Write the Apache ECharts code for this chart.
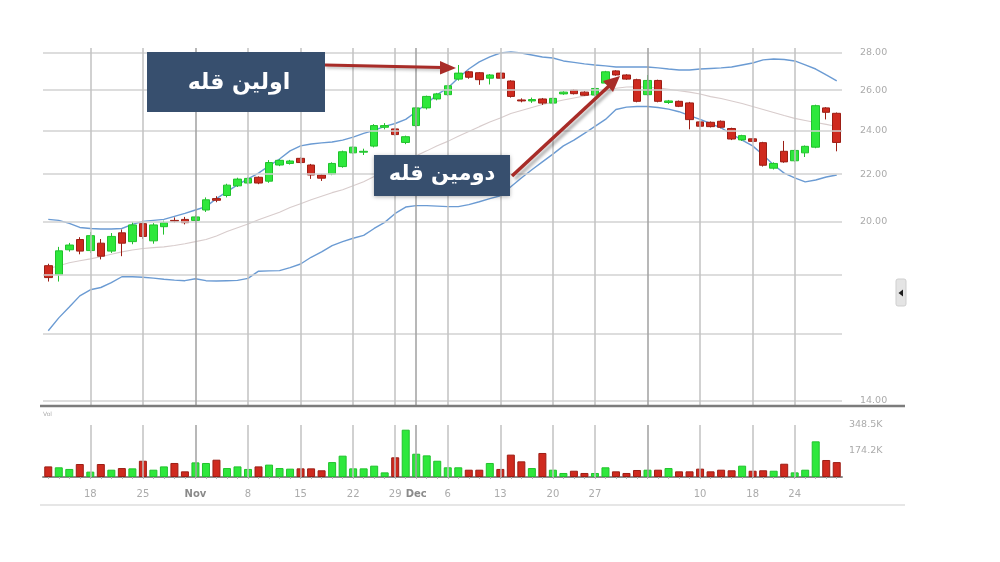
<!DOCTYPE html>
<html><head><meta charset="utf-8">
<script src="https://cdn.jsdelivr.net/npm/echarts@6/dist/echarts.min.js"></script>
<style>html,body{margin:0;padding:0;background:#fff}#c{width:1000px;height:562px}</style>
</head><body><div id="c"></div>
<script>
// ---------- data ----------
const dates = ['Oct 12','Oct 13','Oct 14','Oct 15','Oct 18','Oct 19','Oct 20','Oct 21','Oct 22','Oct 25','Oct 26','Oct 27','Oct 28','Oct 29',
 'Nov 1','Nov 2','Nov 3','Nov 4','Nov 5','Nov 8','Nov 9','Nov 10','Nov 11','Nov 12','Nov 15','Nov 16','Nov 17','Nov 18','Nov 19','Nov 22','Nov 23','Nov 24','Nov 26','Nov 29','Nov 30',
 'Dec 1','Dec 2','Dec 3','Dec 6','Dec 7','Dec 8','Dec 9','Dec 10','Dec 13','Dec 14','Dec 15','Dec 16','Dec 17','Dec 20','Dec 21','Dec 22','Dec 23','Dec 27','Dec 28','Dec 29','Dec 30','Dec 31',
 'Jan 3','Jan 4','Jan 5','Jan 6','Jan 7','Jan 10','Jan 11','Jan 12','Jan 13','Jan 14','Jan 18','Jan 19','Jan 20','Jan 21','Jan 24','Jan 25','Jan 26','Jan 27','Jan 28'];

const open = [18.33,18.00,18.92,19.31,18.89,19.17,18.87,19.57,19.23,19.93, 19.26,19.81,20.06,20.10,20.06,20.48,20.95,21.08,21.49,21.61,
 21.86,21.69,22.40,22.47,22.70,22.40,21.96,22.00,22.33,22.95, 22.98,23.26,24.15,24.07,23.43,24.23,25.10,25.55,25.77,26.58,
 26.97,26.92,26.63,26.90,26.48,25.50,25.45,25.55,25.34,25.81, 26.00,25.90,25.75,26.37,27.02,26.80,26.55,25.77,26.51,25.37,
 25.43,25.35,24.41,24.39,24.44,24.09,23.55,23.60,23.42,22.26, 23.02,22.59,22.95,23.21,25.10,24.83];
const close = [17.90,18.88,19.10,18.87,19.46,18.68,19.43,19.17,19.88,19.43, 19.88,19.97,20.03,19.97,20.20,20.90,20.88,21.52,21.78,21.81,
 21.61,22.51,22.61,22.58,22.51,21.96,21.82,22.47,23.00,23.21, 23.02,24.23,24.23,23.80,23.70,25.10,25.68,25.81,26.23,26.90,
 26.68,26.55,26.80,26.63,25.68,25.45,25.52,25.34,25.58,25.90, 25.82,25.74,26.09,26.97,26.80,26.58,25.43,26.51,25.43,25.45,
 25.18,24.52,24.20,24.18,24.15,23.59,23.75,23.48,22.39,22.47, 22.54,23.06,23.25,25.21,24.88,23.43];
const low = [17.76,17.76,18.85,18.75,18.80,18.56,18.80,18.68,19.13,19.33, 19.15,19.50,19.98,19.90,20.00,20.40,20.80,21.00,21.44,21.55,
 21.56,21.62,22.35,22.42,22.46,21.79,21.70,21.95,22.28,22.90, 22.85,23.20,24.05,23.75,23.35,24.15,25.02,25.48,25.70,26.50,
 26.60,26.28,26.30,26.58,25.62,25.38,25.35,25.25,25.28,25.76, 25.78,25.70,25.70,26.32,26.76,26.54,25.38,25.72,25.38,25.30,
 25.14,24.05,24.16,24.14,24.10,23.54,23.50,23.44,22.33,22.20, 22.50,22.54,22.76,23.16,24.53,23.02];
const high = [18.40,19.03,19.18,19.40,19.60,19.33,19.56,19.70,20.00,20.05, 19.95,20.05,20.18,20.20,20.26,21.00,21.05,21.58,21.84,21.86,
 21.90,22.62,22.66,22.63,22.75,22.45,22.00,22.52,23.05,23.26, 23.14,24.30,24.35,24.12,23.75,25.15,25.72,25.86,26.28,27.34,
 27.02,26.96,26.85,26.95,26.52,25.58,25.62,25.60,25.62,25.94, 26.04,25.94,26.13,27.02,27.06,26.84,26.60,26.80,26.55,25.50,
 25.47,25.40,24.45,24.43,24.48,24.13,23.79,23.64,23.46,22.52, 23.50,23.10,23.29,25.26,25.14,24.87];
// volume in thousands
const volume = [71,65,54,87,36,87,49,60,58,109, 49,71,94,38,98,94,116,60,71,54,
 71,83,60,56,58,58,45,100,143,58, 58,76,31,132,317,156,145,109,65,65,
 49,49,94,54,150,105,60,161,49,27, 42,27,27,65,38,27,47,49,49,60,
 38,38,56,38,49,45,76,42,45,42, 89,31,49,239,114,100];
const upperBand = [20.10,20.06,19.94,19.78,19.74,19.72,19.72,19.74,19.90,20.02, 20.06,20.10,20.22,20.34,20.48,20.62,20.95,21.24,21.53,21.79,
 22.04,22.36,22.67,23.04,23.27,23.36,23.41,23.45,23.54,23.68, 23.86,24.00,24.19,24.33,24.53,24.91,25.32,25.77,26.12,26.64,
 27.12,27.51,27.78,28.00,28.06,28.00,27.89,27.78,27.72,27.56, 27.48,27.40,27.34,27.29,27.23,27.23,27.23,27.23,27.18,27.12,
 27.07,27.07,27.12,27.15,27.18,27.23,27.34,27.45,27.62,27.67, 27.64,27.56,27.34,27.12,26.80,26.49];
const middleBand = [18.22,18.33,18.44,18.51,18.58,18.66,18.75,18.84,18.91,18.97, 19.00,19.03,19.08,19.15,19.23,19.31,19.45,19.62,19.77,19.92,
 20.09,20.24,20.39,20.58,20.74,20.90,21.05,21.20,21.32,21.49, 21.67,21.89,22.11,22.36,22.58,22.82,23.04,23.28,23.48,23.72,
 23.95,24.18,24.40,24.60,24.82,24.97,25.12,25.27,25.38,25.50, 25.60,25.70,25.82,25.95,26.10,26.17,26.18,26.15,26.12,26.05,
 25.97,25.90,25.80,25.67,25.57,25.45,25.32,25.17,25.02,24.87, 24.72,24.58,24.48,24.38,24.29,24.19];
const lowerBand = [16.10,16.52,16.88,17.26,17.47,17.55,17.72,17.93,17.93,17.91, 17.88,17.84,17.81,17.79,17.86,17.79,17.78,17.79,17.80,17.87,
 18.13,18.14,18.15,18.26,18.39,18.64,18.84,19.08,19.23,19.36, 19.47,19.74,19.98,20.34,20.60,20.66,20.66,20.64,20.62,20.62,
 20.70,20.82,20.95,21.07,21.45,21.83,22.19,22.54,22.89,23.27, 23.54,23.86,24.19,24.53,25.02,25.14,25.17,25.17,25.12,25.04,
 24.91,24.72,24.53,24.33,24.12,23.82,23.54,23.27,22.85,22.40, 22.04,21.83,21.66,21.74,21.87,21.96];

const xTickDates  = ['Oct 18','Oct 25','Nov 1','Nov 8','Nov 15','Nov 22','Nov 29','Dec 1','Dec 6','Dec 13','Dec 20','Dec 27','Jan 3','Jan 10','Jan 18','Jan 24'];
const xTickLabels = ['18','25','Nov','8','15','22','29','Dec','6','13','20','27','','10','18','24'];
const monthStarts = ['Nov 1','Dec 1','Jan 3'];
const priceTicks = [14,16,18,20,22,24,26,28];
const priceTickLabels = ['14.00','','','20.00','22.00','24.00','26.00','28.00'];
const volTicks = [174.25,348.5];
const volTickLabels = ['174.2K','348.5K'];

// ---------- chart ----------
const GREEN='#2ee83c', GREEN_B='#20c22c', RED='#cf2a1f', RED_B='#9c1e15';
const FONT='"DejaVu Sans", sans-serif';
const chart = echarts.init(document.getElementById('c'), null, {renderer:'canvas'});

const candles = dates.map((d,i)=>[open[i],close[i],low[i],high[i]]);
const volData = volume.map((v,i)=>{
  const down = close[i] < open[i];
  return {value:v, itemStyle:{color: down?RED:GREEN, borderColor: down?RED_B:GREEN_B, borderWidth:1}};
});
const labelMap = {};
xTickDates.forEach((d,i)=>{ if (xTickLabels[i] !== '') labelMap[d] = xTickLabels[i]; });
const vLines = xTickDates.map(d=>({xAxis:d, label:{show:false},
  lineStyle:{color: monthStarts.includes(d)?'#a0a0a0':'#c2c2c2', width:1.5, type:'solid'}}));
const hLines = priceTicks.map((v,i)=>({yAxis:v,
  label:{show: priceTickLabels[i]!=='', formatter: priceTickLabels[i]},
  lineStyle:{color:'#d2d2d2', width:1.5, type:'solid'}}));

const option = {
  animation:false,
  backgroundColor:'#ffffff',
  grid:[{left:43, right:158, top:48, height:358},
        {left:43, right:158, top:425, height:52}],
  xAxis:[
    {type:'category', gridIndex:0, data:dates, boundaryGap:true,
     axisLine:{show:false}, axisTick:{show:false}, axisLabel:{show:false}, splitLine:{show:false}},
    {type:'category', gridIndex:1, data:dates, boundaryGap:true, offset:5,
     axisLine:{show:true, lineStyle:{color:'#8c8c8c', width:2}},
     axisTick:{show:true, alignWithLabel:true, interval:0, length:2, lineStyle:{color:'#b5b5b5'}},
     splitLine:{show:false},
     axisLabel:{interval:(idx,val)=>labelMap[val]!==undefined, margin:7, color:'#ababab', fontSize:10, fontFamily:FONT,
       formatter:(val)=>{const l=labelMap[val]||''; return (l==='Nov'||l==='Dec')?'{m|'+l+'}':l;},
       rich:{m:{fontWeight:'bold', color:'#8a8a8a', fontSize:10, fontFamily:FONT}}}}
  ],
  yAxis:[
    {type:'log', gridIndex:0, min:13.86, max:28.28, position:'right',
     axisLine:{show:false}, axisTick:{show:false}, axisLabel:{show:false}, splitLine:{show:false}},
    {type:'value', gridIndex:1, min:0, max:348.5, interval:174.25, position:'right',
     axisLine:{show:false}, axisTick:{show:false}, splitLine:{show:false},
     axisLabel:{margin:7, color:'#ababab', fontSize:9.5, fontFamily:FONT,
       formatter:(v)=>{const k=volTicks.findIndex(t=>Math.abs(t-v)<0.01); return k>=0?volTickLabels[k]:'';}}}
  ],
  series:[
    {name:'grid', type:'line', xAxisIndex:0, yAxisIndex:0, data:[], z:1,
     markLine:{silent:true, symbol:['none','none'], animation:false,
       label:{position:'end', distance:18, color:'#ababab', fontSize:9.5, fontFamily:FONT},
       data: hLines.concat(vLines)}},
    {name:'upper', type:'line', xAxisIndex:0, yAxisIndex:0, data:upperBand, symbol:'none', z:2,
     lineStyle:{color:'#6b9bd3', width:1.4}},
    {name:'lower', type:'line', xAxisIndex:0, yAxisIndex:0, data:lowerBand, symbol:'none', z:2,
     lineStyle:{color:'#6b9bd3', width:1.4}},
    {name:'middle', type:'line', xAxisIndex:0, yAxisIndex:0, data:middleBand, symbol:'none', z:2,
     lineStyle:{color:'#d8cccc', width:1.1}},
    {name:'price', type:'candlestick', xAxisIndex:0, yAxisIndex:0, data:candles, barWidth:8, z:3,
     itemStyle:{color:GREEN, color0:RED, borderColor:GREEN_B, borderColor0:RED_B, borderWidth:1}},
    {name:'volume', type:'bar', xAxisIndex:1, yAxisIndex:1, data:volData, barWidth:8, z:3,
     markLine:{silent:true, symbol:['none','none'], animation:false, label:{show:false}, data:vLines}}
  ],
  graphic:[
    {type:'line', shape:{x1:40,y1:406,x2:905,y2:406}, style:{stroke:'#7c7c7c', lineWidth:2.5}, z:50},
    {type:'line', shape:{x1:40,y1:505,x2:905,y2:505}, style:{stroke:'#dedede', lineWidth:1.5}, z:50},
    {type:'rect', shape:{x:896,y:279,width:10,height:27,r:2}, style:{fill:'#e4e4e4', stroke:'#cfcfcf', lineWidth:1}, z:50},
    {type:'polygon', shape:{points:[[898.5,293],[903,289.5],[903,296.5]]}, style:{fill:'#1e1e1e'}, z:51},
    {type:'text', style:{x:43, y:411, text:'Vol', fill:'#b0b0b0', fontSize:6, fontFamily:FONT}, z:50},
    // annotation 1
    {type:'line', shape:{x1:325,y1:65,x2:442,y2:67.6}, style:{stroke:'#a82c28', lineWidth:3, shadowColor:'rgba(0,0,0,0.25)', shadowBlur:3, shadowOffsetX:1, shadowOffsetY:2}, z:60},
    {type:'polygon', shape:{points:[[456,68],[440,61],[440,74.5]]}, style:{fill:'#a82c28'}, z:60},
    {type:'rect', shape:{x:147,y:52,width:178,height:60}, style:{fill:'#374f6e'}, z:61},
    {type:'text', style:{x:239, y:83, text:'اولین قله', fill:'#ffffff', fontSize:22, fontWeight:'bold', fontFamily:FONT, align:'center', verticalAlign:'middle'}, z:62},
    // annotation 2
    {type:'line', shape:{x1:512,y1:176,x2:609,y2:86}, style:{stroke:'#a82c28', lineWidth:3.5, shadowColor:'rgba(0,0,0,0.3)', shadowBlur:3, shadowOffsetX:3, shadowOffsetY:3}, z:60},
    {type:'polygon', shape:{points:[[620,76],[603,81],[613,92]]}, style:{fill:'#a82c28'}, z:60},
    {type:'rect', shape:{x:374,y:155,width:136,height:41}, style:{fill:'#374f6e', shadowColor:'rgba(0,0,0,0.3)', shadowBlur:4, shadowOffsetY:1}, z:61},
    {type:'text', style:{x:442, y:175, text:'دومین قله', fill:'#ffffff', fontSize:21, fontWeight:'bold', fontFamily:FONT, align:'center', verticalAlign:'middle'}, z:62}
  ]
};
chart.setOption(option);
</script>
</body></html>
